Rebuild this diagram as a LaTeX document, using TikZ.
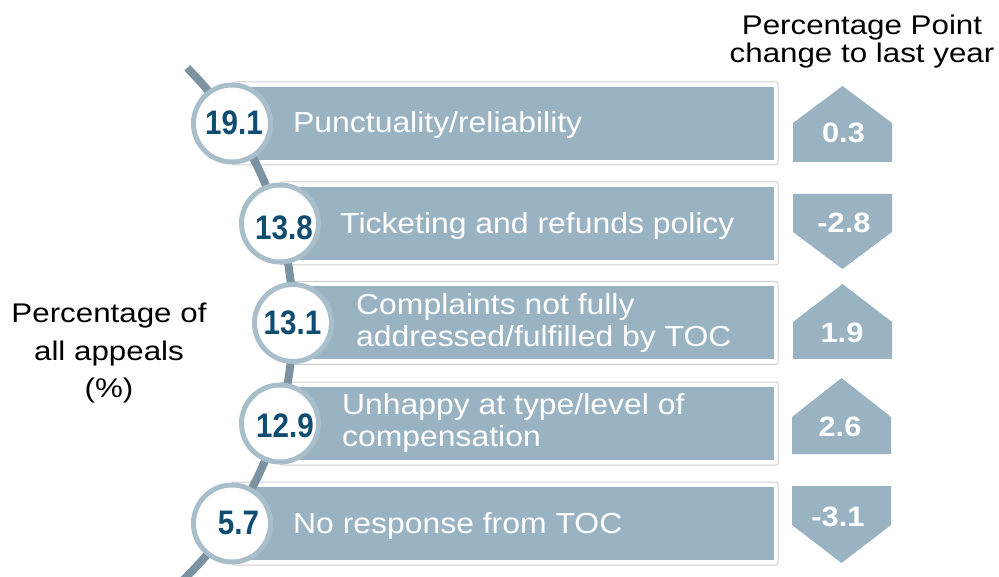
\documentclass[tikz,border=0pt]{standalone}
\usepackage{fontspec}
\usepackage{graphicx}
\setmainfont{Liberation Sans}
\definecolor{barfill}{HTML}{9AB3C2}
\definecolor{spinecol}{HTML}{7B93A1}
\definecolor{ringcol}{HTML}{A8BECB}
\definecolor{numblue}{HTML}{0F4C72}
\definecolor{barline}{HTML}{CFCFCF}
\newcommand{\wideA}[1]{\scalebox{1.16}[1]{#1}}
\newcommand{\wideB}[1]{\scalebox{1.1}[1]{#1}}
\newcommand{\narrowN}[1]{\scalebox{0.87}[1]{#1}}
\begin{document}
\begin{tikzpicture}[x=1pt,y=1pt,
  barouter/.style={draw=barline, line width=1pt, fill=white, rounded corners=2pt},
  barinner/.style={fill=barfill},
  numcirc/.style={circle, draw=ringcol, line width=5pt, fill=white, minimum size=77pt, inner sep=0pt},
  numtext/.style={text=numblue, inner sep=0pt, font=\fontsize{34}{34}\selectfont\bfseries},
  bartext/.style={text=white, align=left, inner sep=0pt, font=\fontsize{29}{32}\selectfont},
  chgtext/.style={text=white, inner sep=0pt, font=\fontsize{28}{28}\selectfont\bfseries},
  chgshape/.style={fill=barfill},
  lbl/.style={align=center, inner sep=0pt, text=black}]
\useasboundingbox (0,0) rectangle (999,-577);

% bars
\foreach \cx/\cy in {232/123.5, 280/223.5, 293/323, 280/423.5, 232/523.5}{
  \path[barouter] (\cx,-\cy+41.5) rectangle (778,-\cy-41.5);
  \path[barinner] (\cx,-\cy+36.5) rectangle (774,-\cy-36.5);
}

% spine
\coordinate (spinetop) at (187.2,-68);
\draw[spinecol, line width=8pt] (spinetop) arc[start angle=45.2, end angle=-46.8, radius=358];

% circles
\node[numcirc] (c1) at (232,-123.5) {};
\node[numcirc] (c2) at (280,-223.5) {};
\node[numcirc] (c3) at (293,-323) {};
\node[numcirc] (c4) at (280,-423.5) {};
\node[numcirc] (c5) at (232,-523.5) {};

\node[numtext] (n1) at (234,-122.5) {\narrowN{19.1}};
\node[numtext] (n2) at (284,-228) {\narrowN{13.8}};
\node[numtext] (n3) at (292.5,-322.5) {\narrowN{13.1}};
\node[numtext] (n4) at (285,-426) {\narrowN{12.9}};
\node[numtext] (n5) at (238.5,-522.5) {\narrowN{5.7}};

% bar texts
\node[bartext, anchor=base west] (t1) at (293,-133) {\wideB{Punctuality/reliability}};
\node[bartext, anchor=base west] (t2) at (340,-233.5) {\wideB{Ticketing and refunds policy}};
\node[bartext, anchor=west] (t3) at (356,-323) {\wideB{Complaints not fully}\\\wideB{addressed/fulfilled by TOC}};
\node[bartext, anchor=west] (t4) at (342,-423.5) {\wideB{Unhappy at type/level of}\\\wideB{compensation}};
\node[bartext, anchor=base west] (t5) at (293,-533) {\wideB{No response from TOC}};

% change shapes
\path[chgshape] (793,-162) -- (793,-123) -- (842.5,-86) -- (892,-123) -- (892,-162) -- cycle;
\path[chgshape] (793,-194) -- (892,-194) -- (892,-232) -- (842.5,-269) -- (793,-232) -- cycle;
\path[chgshape] (793,-359) -- (793,-322) -- (842.5,-284) -- (892,-322) -- (892,-359) -- cycle;
\path[chgshape] (792,-454) -- (792,-417) -- (841.5,-378) -- (891,-417) -- (891,-454) -- cycle;
\path[chgshape] (792,-486) -- (891,-486) -- (891,-525) -- (841.5,-563) -- (792,-525) -- cycle;

\node[chgtext] (d1) at (843.5,-133) {\wideB{0.3}};
\node[chgtext] (d2) at (844,-223) {\wideB{-2.8}};
\node[chgtext] (d3) at (842,-332.5) {\wideB{1.9}};
\node[chgtext] (d4) at (840,-427) {\wideB{2.6}};
\node[chgtext] (d5) at (838,-517) {\wideB{-3.1}};

% labels
\node[lbl, font=\fontsize{27}{28}\selectfont] (hdr) at (862,-42) {\wideA{Percentage Point}\\\wideA{change to last year}};
\node[lbl, font=\fontsize{27}{37.5}\selectfont] (ylab) at (109,-353.5) {\wideA{Percentage of}\\\wideA{all appeals}\\\wideA{(\%)}};
\end{tikzpicture}
\end{document}
